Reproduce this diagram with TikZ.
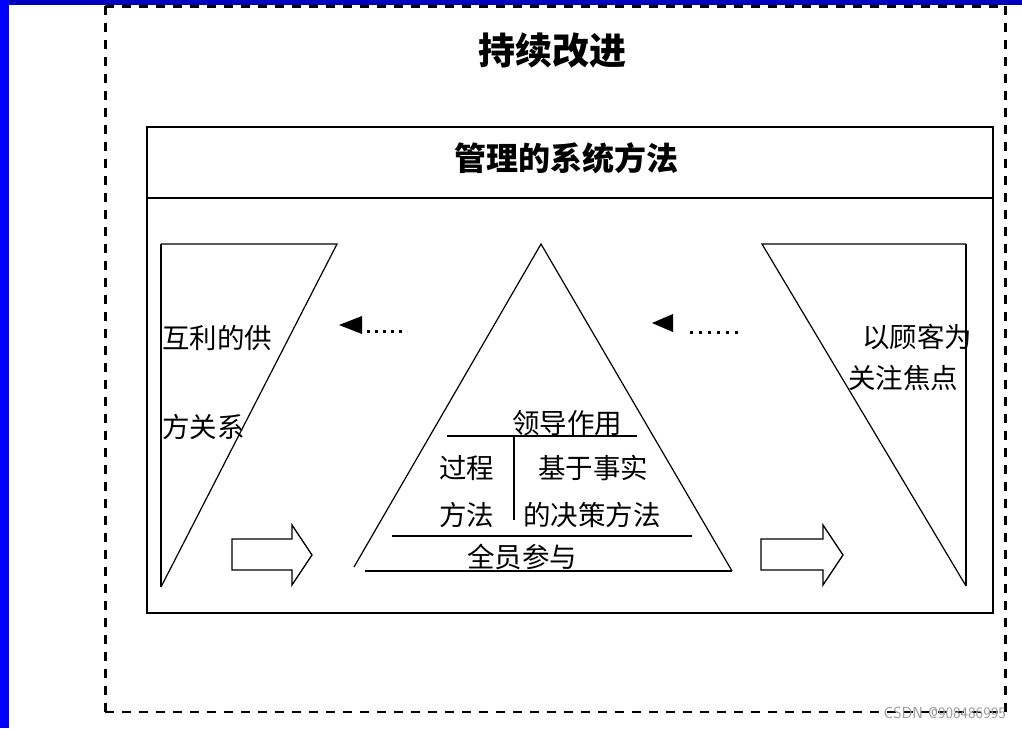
\documentclass[tikz,border=0pt]{standalone}
\usepackage{fontspec}
\newfontfamily\cjk{Noto Sans CJK SC}
\tikzset{
    txt/.style = {inner sep = 0pt, anchor = west, font = \cjk\fontsize{27.5}{29}\selectfont},
    edge/.style = {line width = 1.2pt},
    blockarr/.style = {line width = 1.3pt, fill = white}
}
\begin{document}
\begin{tikzpicture}[x = 1pt, y = -1pt]
    \useasboundingbox (0,0) rectangle (1022,728);
    \fill[white] (0,0) rectangle (1022,728);
    % frame of the slide
    \fill[blue] (0,0) rectangle (9,728);
    \fill[blue!75!black] (9,0) rectangle (1022,5);
    \begin{scope}[dash pattern = on 9pt off 8pt]
        \draw[line width = 3pt] (105,6) -- (105,712);
        \draw[line width = 3pt] (1005,6) -- (1005,712);
        \draw[line width = 1.4pt] (105,712) -- (1005,712);
        \draw[line width = 3pt] (105,6) -- (1005,6);
    \end{scope}
    \node[inner sep = 0pt, font = \cjk\bfseries\fontsize{37}{39}\selectfont] (title) at (552,50) {持续改进};
    % box of the system
    \draw[line width = 2pt] (147,127) rectangle (993,613);
    \draw[line width = 2pt] (147,198) -- (993,198);
    \node[inner sep = 0pt, font = \cjk\bfseries\fontsize{32}{34}\selectfont] (head) at (566,158) {管理的系统方法};
    % left triangle
    \coordinate (l1) at (161,244);
    \coordinate (l2) at (337,244);
    \coordinate (l3) at (161,587);
    \draw[edge] (l1) -- (l2) -- (l3);
    \draw[line width = 2pt] (l1) -- (l3);
    \node[txt] (sup1) at (162,338) {互利的供};
    \node[txt] (sup2) at (162,427) {方关系};
    % right triangle
    \coordinate (r1) at (762,244);
    \coordinate (r2) at (966,244);
    \coordinate (r3) at (966,586);
    \draw[edge] (r2) -- (r1) -- (r3);
    \draw[line width = 2pt] (r2) -- (r3);
    \node[txt] (cus1) at (862,337) {以顾客为};
    \node[txt] (cus2) at (848,378) {关注焦点};
    % middle triangle
    \coordinate (m1) at (541,244);
    \coordinate (m2) at (354,567);
    \coordinate (m3) at (732,571);
    \draw[edge] (m2) -- (m1) -- (m3);
    \draw[line width = 1.5pt] (365,571) -- (m3);
    \draw[line width = 2pt] (447,436) -- (637,436);
    \draw[line width = 2pt] (514,436) -- (514,520);
    \draw[line width = 2pt] (392,536) -- (692,536);
    \node[txt] (lead) at (512,423) {领导作用};
    \node[txt] (proc1) at (439,468) {过程};
    \node[txt] (proc2) at (439,515) {方法};
    \node[txt] (fact1) at (538,468) {基于事实};
    \node[txt] (fact2) at (523,515) {的决策方法};
    \node[txt] (all) at (467,557) {全员参与};
    % dotted arrows
    \fill (339,325) -- (362,316) -- (362,334) -- cycle;
    \draw[line width = 3pt, dash pattern = on 3pt off 5pt] (367,331) -- (407,331);
    \fill (652,323) -- (673,314) -- (673,332) -- cycle;
    \draw[line width = 3pt, dash pattern = on 3pt off 6pt] (690,332) -- (740,332);
    % block arrows
    \draw[blockarr] (232,539) -- (292,539) -- (292,525) -- (312,555) -- (292,585) -- (292,570) -- (232,570) -- cycle;
    \draw[blockarr] (761,539) -- (823,539) -- (823,525) -- (843,555) -- (823,585) -- (823,570) -- (761,570) -- cycle;
    \node[inner sep = 0pt, anchor = east, text = gray!80, font = \sffamily\fontsize{16}{17}\selectfont] (mark) at (1006,713) {CSDN @908486995};
\end{tikzpicture}
\end{document}
